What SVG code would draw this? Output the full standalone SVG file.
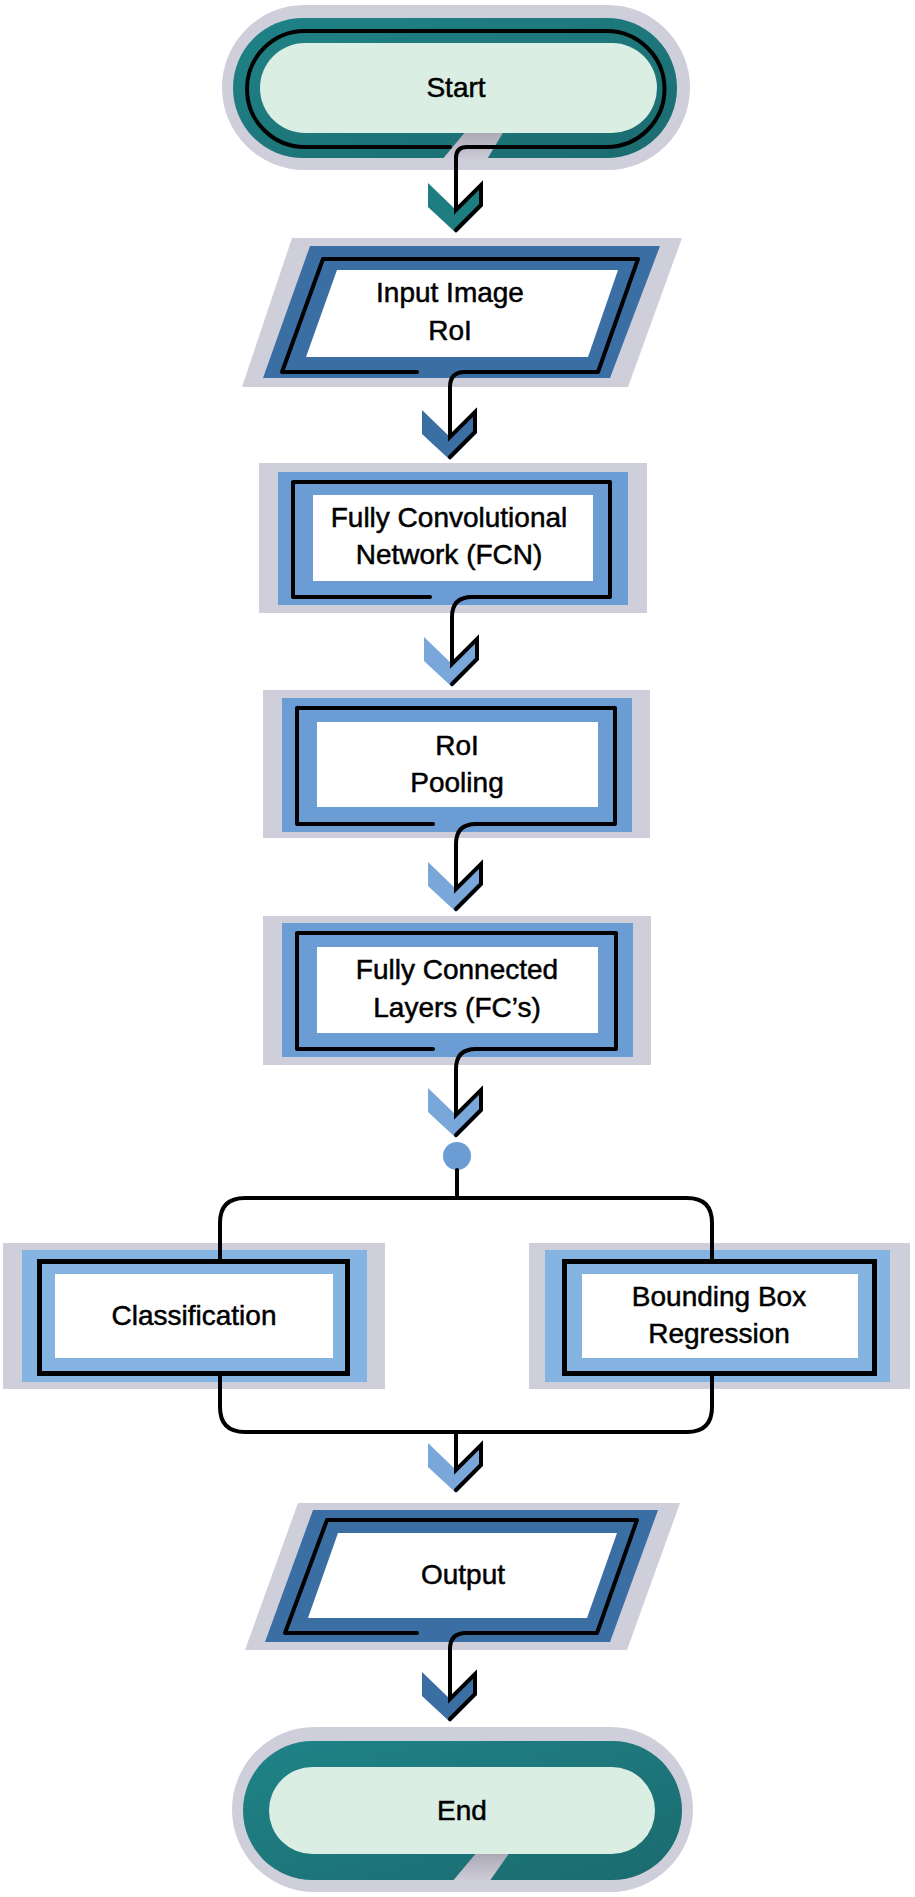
<svg xmlns="http://www.w3.org/2000/svg" xmlns:xlink="http://www.w3.org/1999/xlink" width="915" height="1897" viewBox="0 0 915 1897">
  <defs>
    <style>
      .halo { fill: #cfcedb; }
      .teal { fill: url(#tealGrad); }
      .mint { fill: #daeee3; }
      .notch { fill: url(#notchGrad); }
      .dk { fill: #3b6fa4; }
      .md { fill: #6b9cd3; }
      .lt { fill: #85b4e2; }
      .chev-teal { fill: #1e7d81; }
      .chev-dk { fill: #3b6fa4; }
      .chev-lt { fill: #79a7da; }
      .paper { fill: #ffffff; }
      .edge { fill: none; stroke: #000; stroke-width: 4; stroke-linecap: round; stroke-linejoin: round; }
      .frame { fill: none; stroke: #000; stroke-width: 5; }
      .wire { fill: none; stroke: #000; stroke-width: 4; stroke-linecap: round; stroke-linejoin: miter; }
      .lbl { font-family: "Liberation Sans", Arial, sans-serif; font-size: 28px; fill: #000; stroke: #000; stroke-width: 0.5; text-anchor: middle; }
    </style>
    <linearGradient id="tealGrad" x1="0" y1="0" x2="1" y2="1">
      <stop offset="0" stop-color="#1f8387"/>
      <stop offset="1" stop-color="#1b6b6f"/>
    </linearGradient>
    <linearGradient id="notchGrad" x1="0" y1="0" x2="0" y2="1">
      <stop offset="0" stop-color="#a9a7b2"/>
      <stop offset="1" stop-color="#cfcedb"/>
    </linearGradient>
    <!-- downward chevron arrowhead, origin at its top centre -->
    <path id="chev" d="M -28 0 L 0 27 L 27 0 V 23 L 0 50 L -28 24 Z"/>
  </defs>

  <!-- Start terminator -->
  <g id="start">
    <rect class="halo" x="222" y="5" width="468" height="165" rx="82.5"/>
    <rect class="teal" x="233" y="18" width="444" height="140" rx="70"/>
    <polygon class="notch" points="466,131 504,131 486,161 441,161"/>
    <rect class="mint" x="260" y="43" width="397" height="90" rx="45"/>
    <path class="edge" d="M 450 147 H 305 A 58 58 0 0 1 305 31 H 606.5 A 58 58 0 0 1 606.5 147 H 467"/>
    <text class="lbl" x="456" y="97">Start</text>
  </g>

  <!-- Input image / RoI -->
  <g id="input">
    <polygon class="halo" points="292,238 682,238 628,387 242,387"/>
    <polygon class="dk" points="310,246 660,246 610,378 263,378"/>
    <path class="edge" d="M 417 372 H 282 L 323 259 H 638 L 598 372 H 465"/>
    <polygon class="paper" points="337,270 618,270 588,357 306,357"/>
    <text class="lbl" x="450" y="302">Input Image</text>
    <text class="lbl" x="450" y="340">RoI</text>
  </g>

  <!-- Fully Convolutional Network -->
  <g id="fcn">
    <rect class="halo" x="259" y="463" width="388" height="150"/>
    <rect class="md" x="278" y="472" width="350" height="133"/>
    <path class="edge" d="M 430 597 H 293 V 482 H 610 V 597 H 472"/>
    <rect class="paper" x="313" y="495" width="280" height="86"/>
    <text class="lbl" x="449" y="527">Fully Convolutional</text>
    <text class="lbl" x="449" y="564">Network (FCN)</text>
  </g>

  <!-- RoI Pooling -->
  <g id="roi-pooling">
    <rect class="halo" x="263" y="690" width="387" height="148"/>
    <rect class="md" x="282" y="698" width="350" height="134"/>
    <path class="edge" d="M 433 824 H 297 V 708 H 615 V 824 H 476"/>
    <rect class="paper" x="317" y="722" width="281" height="85"/>
    <text class="lbl" x="457" y="755">RoI</text>
    <text class="lbl" x="457" y="792">Pooling</text>
  </g>

  <!-- Fully Connected Layers -->
  <g id="fc-layers">
    <rect class="halo" x="263" y="916" width="388" height="149"/>
    <rect class="md" x="282" y="923" width="351" height="134"/>
    <path class="edge" d="M 433 1049 H 297 V 933 H 616 V 1049 H 476"/>
    <rect class="paper" x="317" y="947" width="281" height="86"/>
    <text class="lbl" x="457" y="979">Fully Connected</text>
    <text class="lbl" x="457" y="1017">Layers (FC’s)</text>
  </g>

  <!-- Fork point -->
  <g id="fork">
    <circle class="md" cx="457" cy="1156" r="14"/>
  </g>

  <!-- Classification head -->
  <g id="classification">
    <rect class="halo" x="3" y="1243" width="382" height="146"/>
    <rect class="lt" x="22" y="1250" width="345" height="132"/>
    <rect class="frame" x="39.5" y="1261.5" width="308" height="112"/>
    <rect class="paper" x="55" y="1274" width="278" height="84"/>
    <text class="lbl" x="194" y="1325">Classification</text>
  </g>

  <!-- Bounding box regression head -->
  <g id="bbox-regression">
    <rect class="halo" x="529" y="1243" width="381" height="146"/>
    <rect class="lt" x="545" y="1250" width="345" height="132"/>
    <rect class="frame" x="564.5" y="1261.5" width="310" height="112"/>
    <rect class="paper" x="582" y="1274" width="276" height="84"/>
    <text class="lbl" x="719" y="1306">Bounding Box</text>
    <text class="lbl" x="719" y="1343">Regression</text>
  </g>

  <!-- Output -->
  <g id="output">
    <polygon class="halo" points="298,1503 680,1503 627,1650 245,1650"/>
    <polygon class="dk" points="313,1510 658,1510 610,1642 265,1642"/>
    <path class="edge" d="M 417 1633 H 285 L 327 1520 H 637 L 597 1633 H 466"/>
    <polygon class="paper" points="338,1533 617,1533 587,1618 308,1618"/>
    <text class="lbl" x="463" y="1584">Output</text>
  </g>

  <!-- End terminator -->
  <g id="end">
    <rect class="halo" x="232" y="1727" width="461" height="165" rx="82.5"/>
    <rect class="teal" x="243" y="1741" width="439" height="139" rx="69.5"/>
    <polygon class="notch" points="477,1852 510,1852 489,1882 452,1882"/>
    <rect class="mint" x="269" y="1767" width="386" height="87" rx="43.5"/>
    <text class="lbl" x="462" y="1820">End</text>
  </g>

  <!-- Connectors: chevron heads plus the black leader lines -->
  <g id="connectors">
    <use xlink:href="#chev" class="chev-teal" x="456" y="183"/>
    <use xlink:href="#chev" class="chev-dk" x="450" y="410"/>
    <use xlink:href="#chev" class="chev-lt" x="452" y="637"/>
    <use xlink:href="#chev" class="chev-lt" x="456" y="862"/>
    <use xlink:href="#chev" class="chev-lt" x="456" y="1088"/>
    <use xlink:href="#chev" class="chev-lt" x="456" y="1443"/>
    <use xlink:href="#chev" class="chev-dk" x="450" y="1672"/>

    <path class="wire" d="M 467 147 Q 456 147 456 158 V 210 L 481 185 V 205 L 456 230"/>
    <path class="wire" d="M 465 372 Q 450 372 450 387 V 437 L 475 412 V 432 L 450 457"/>
    <path class="wire" d="M 472 597 Q 452 597 452 617 V 664 L 477 639 V 659 L 452 684"/>
    <path class="wire" d="M 476 824 Q 456 824 456 844 V 889 L 481 864 V 884 L 456 909"/>
    <path class="wire" d="M 476 1049 Q 456 1049 456 1069 V 1115 L 481 1090 V 1110 L 456 1135"/>

    <path class="wire" d="M 457 1170 V 1198"/>
    <path class="wire" d="M 220 1259 V 1223 Q 220 1198 245 1198 H 687 Q 712 1198 712 1223 V 1259"/>
    <path class="wire" d="M 220 1376 V 1407 Q 220 1432 245 1432 H 687 Q 712 1432 712 1407 V 1376"/>
    <path class="wire" d="M 456 1432 V 1470 L 481 1445 V 1465 L 456 1490"/>

    <path class="wire" d="M 466 1633 Q 450 1633 450 1649 V 1699 L 475 1674 V 1694 L 450 1719"/>
  </g>
</svg>
